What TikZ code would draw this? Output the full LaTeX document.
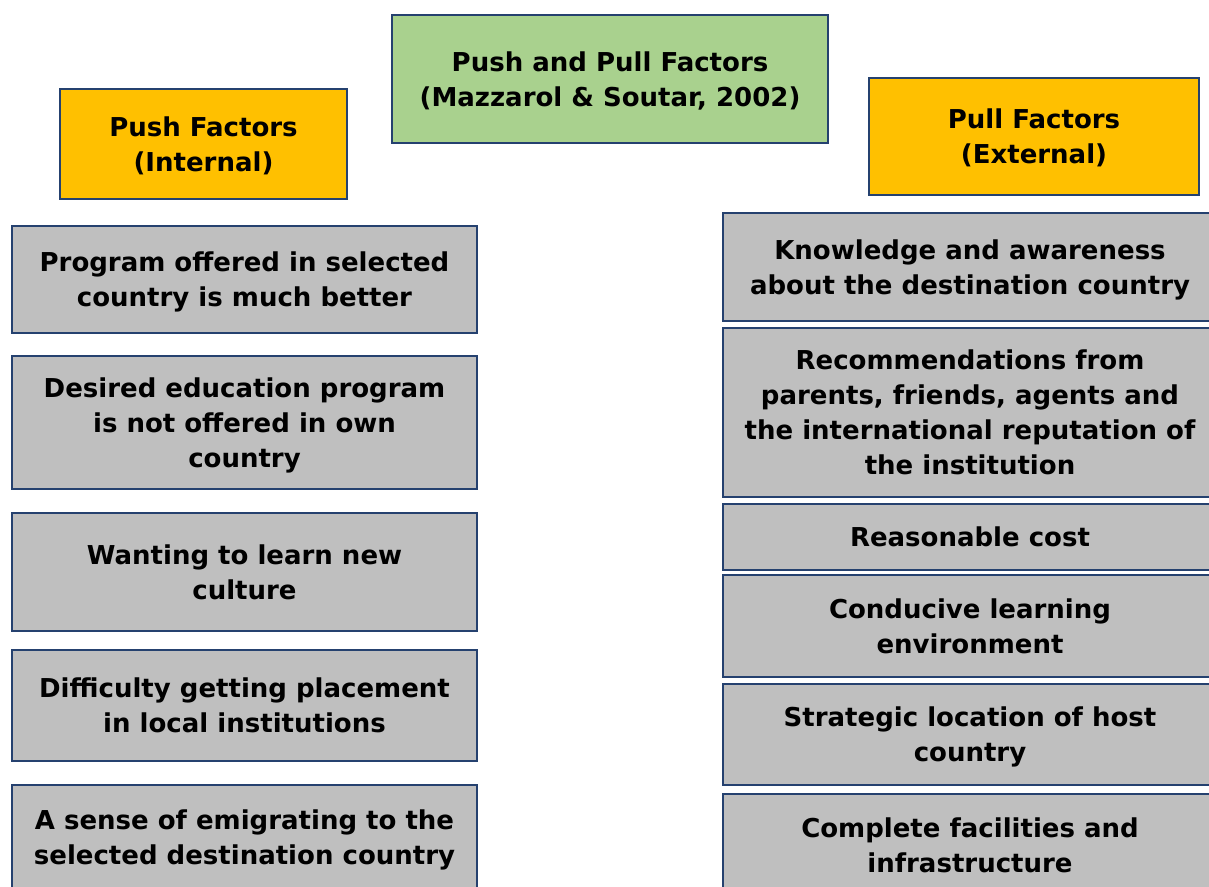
\documentclass[tikz,border=0pt]{standalone}
\usepackage{fontspec}
\setmainfont{DejaVu Sans}
\definecolor{edge}{HTML}{25416F}
\definecolor{grayfill}{HTML}{BFBFBF}
\definecolor{orangefill}{HTML}{FFC000}
\definecolor{greenfill}{HTML}{A9D18E}
\tikzset{
  card/.style={draw=edge, line width=2.4pt, rectangle, inner sep=0pt, align=center,
    font=\fontsize{26}{35}\selectfont\bfseries, text depth=0pt},
  graybox/.style={card, fill=grayfill},
  headbox/.style={card, fill=orangefill},
  titlebox/.style={card, fill=greenfill},
}
\begin{document}
\begin{tikzpicture}[x=1pt,y=-1pt]
\useasboundingbox (0,0) rectangle (1209,886);

% title and column headers
\node[titlebox, minimum width=436pt, minimum height=128pt] (title) at (610,79)
  {Push and Pull Factors\\(Mazzarol \& Soutar, 2002)};
\node[headbox, minimum width=287pt, minimum height=110pt] (push) at (203.5,144)
  {Push Factors\\(Internal)};
\node[headbox, minimum width=330pt, minimum height=117pt] (pull) at (1034,136.5)
  {Pull Factors\\(External)};

% push factors
\node[graybox, minimum width=465pt, minimum height=107pt] (l1) at (244.5,279.5)
  {Program offered in selected\\country is much better};
\node[graybox, minimum width=465pt, minimum height=133pt] (l2) at (244.5,422.5)
  {Desired education program\\is not offered in own\\country};
\node[graybox, minimum width=465pt, minimum height=118pt] (l3) at (244.5,572)
  {Wanting to learn new\\culture};
\node[graybox, minimum width=465pt, minimum height=111pt] (l4) at (244.5,705.5)
  {Difficulty getting placement\\in local institutions};
\node[graybox, minimum width=465pt, minimum height=104pt] (l5) at (244.5,837)
  {A sense of emigrating to the\\selected destination country};

% pull factors
\node[graybox, minimum width=494pt, minimum height=108pt] (r1) at (970,267)
  {Knowledge and awareness\\about the destination country};
\node[graybox, minimum width=494pt, minimum height=169pt] (r2) at (970,412.5)
  {Recommendations from\\parents, friends, agents and\\the international reputation of\\the institution};
\node[graybox, minimum width=494pt, minimum height=66pt] (r3) at (970,537)
  {Reasonable cost};
\node[graybox, minimum width=494pt, minimum height=102pt] (r4) at (970,626)
  {Conducive learning\\environment};
\node[graybox, minimum width=494pt, minimum height=101pt] (r5) at (970,734.5)
  {Strategic location of host\\country};
\node[graybox, minimum width=494pt, minimum height=102pt] (r6) at (970,845)
  {Complete facilities and\\infrastructure};
\end{tikzpicture}
\end{document}
